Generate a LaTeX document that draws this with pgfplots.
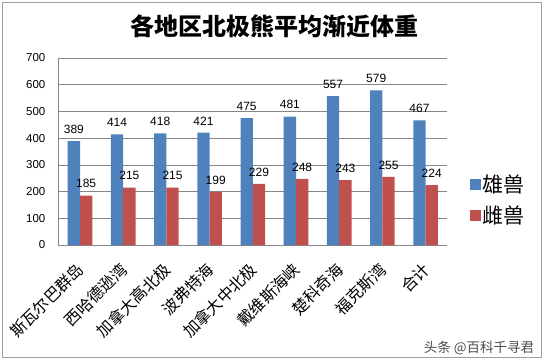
\documentclass[border=0pt]{standalone}
\usepackage{pgfplots}
\pgfplotsset{compat=1.18}
\usepackage{fontspec}
\setmainfont{Liberation Sans}
\newfontfamily\cjk{Noto Sans CJK SC}
\definecolor{maleblue}{HTML}{4F81BD}
\definecolor{femred}{HTML}{C0504D}
\definecolor{gridgray}{HTML}{868686}
\begin{document}
\begin{tikzpicture}[x=1pt,y=1pt]
\useasboundingbox (0,0) rectangle (545,360);
\draw[gridgray!80, line width=0.8pt] (2,2.5) rectangle (541.5,357.5);
\node[font=\cjk\bfseries\fontsize{24}{28}\selectfont] at (274.5,334) {各地区北极熊平均渐近体重};
\node[font=\cjk\fontsize{13.5}{15}\selectfont, text=black!70] at (479,12.5) {头条 @百科千寻君};
\begin{axis}[
  at={(80pt,115pt)}, anchor=origin, scale only axis,
  width=388.8pt, height=187pt,
  ybar=0pt, bar width=12.3pt,
  ymin=0, ymax=700, ytick={0,100,...,700},
  xmin=-0.5, xmax=8.5, xtick={0,...,8},
  xticklabels={斯瓦尔巴群岛,西哈德逊湾,加拿大高北极,波弗特海,加拿大中北极,戴维斯海峡,楚科奇海,福克斯湾,合计},
  x tick label style={font=\cjk\fontsize{16}{18}\selectfont, yshift=-21.5pt, xshift=1pt, rotate=45, anchor=east, inner sep=0pt},
  y tick label style={font=\fontsize{11.5}{13}\selectfont, xshift=-9.5pt},
  /pgf/number format/assume math mode=true,
  axis lines=left,
  axis line style={draw=gridgray, -},
  major tick length=0pt,
  ymajorgrids, grid style={gridgray, line width=0.6pt},
  nodes near coords,
  nodes near coords style={font=\fontsize{12}{14}\selectfont, text=black, yshift=4pt},
  legend style={at={(1.05,0.24)}, anchor=west, draw=none, fill=none,
    font=\cjk\fontsize{21}{24}\selectfont, row sep=8pt},
  legend cell align=left,
  legend image code/.code={\fill[#1] (0pt,-5.5pt) rectangle (11pt,5.5pt);},
]
\addplot[fill=maleblue, draw=none] coordinates {(0,389) (1,414) (2,418) (3,421) (4,475) (5,481) (6,557) (7,579) (8,467)};
\addplot[fill=femred, draw=none] coordinates {(0,185) (1,215) (2,215) (3,199) (4,229) (5,248) (6,243) (7,255) (8,224)};
\legend{雄兽,雌兽}
\end{axis}
\end{tikzpicture}
\end{document}
